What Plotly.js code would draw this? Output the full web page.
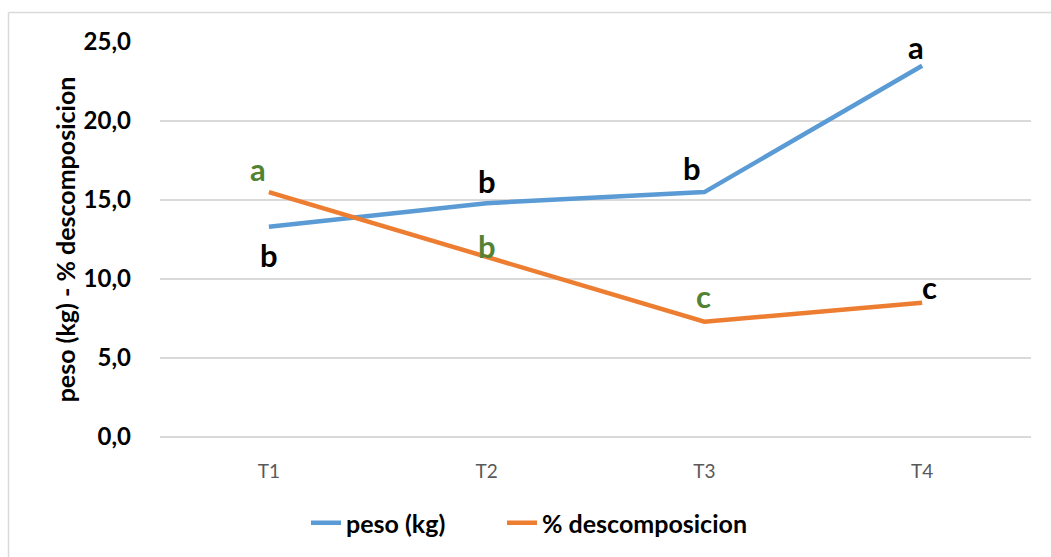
<!DOCTYPE html>
<html><head><meta charset="utf-8">
<script src="https://cdn.plot.ly/plotly-3.0.1.min.js"></script>
<style>html,body{margin:0;padding:0;background:#fff}#chart{width:1051px;height:557px}</style>
</head><body><div id="chart"></div>
<script>
const categories = ["T1", "T2", "T3", "T4"];
const pesoKg = [13.3, 14.8, 15.5, 23.5];
const descomposicion = [15.5, 11.4, 7.3, 8.5];
const pesoLetters = ["b", "b", "b", "a"];
const descLetters = ["a", "b", "c", "c"];
const yTickVals = [0, 5, 10, 15, 20, 25];

const green = "#548235";
const FONT = "Lato, 'Open Sans', sans-serif";

// label styling/offsets (style, not data)
const pesoStyle = [
  {color: "#000", dx: 0, dy: -28},
  {color: "#000", dx: 0, dy: 22},
  {color: "#000", dx: -12, dy: 24},
  {color: "#000", dx: -6, dy: 19}
];
const descStyle = [
  {color: green, dx: -11, dy: 23},
  {color: green, dx: 0, dy: 11},
  {color: green, dx: -1, dy: 26},
  {color: "#000", dx: 7, dy: 16}
];

const annotations = [];
function addLabels(vals, letters, styles) {
  vals.forEach((v, i) => {
    annotations.push({
      x: categories[i], y: v, xref: "x", yref: "y",
      text: "<b>" + letters[i] + "</b>", showarrow: false,
      xshift: styles[i].dx, yshift: styles[i].dy,
      font: {family: FONT, size: 31, color: styles[i].color}
    });
  });
}
addLabels(pesoKg, pesoLetters, pesoStyle);
addLabels(descomposicion, descLetters, descStyle);

const traces = [
  {x: categories, y: pesoKg, type: "scatter", mode: "lines", name: "peso (kg)",
   line: {color: "#5b9bd5", width: 4.5}, legend: "legend"},
  {x: categories, y: descomposicion, type: "scatter", mode: "lines", name: "% descomposicion",
   line: {color: "#ed7d31", width: 4.5}, legend: "legend2"}
];

const L = 160, R = 1031, T = 42, B = 438;
const px = v => (v - L) / (R - L);
const py = v => (B - v) / (B - T);

const legendFont = {family: FONT, size: 25, color: "#000", weight: "bold"};

const layout = {
  width: 1051, height: 557,
  margin: {l: L, r: 1051 - R, t: T, b: 557 - B},
  paper_bgcolor: "#fff", plot_bgcolor: "#fff",
  separators: ",.",
  showlegend: true,
  legend: {orientation: "h", x: px(306), xanchor: "left", y: py(523), yanchor: "middle",
    font: legendFont, bgcolor: "rgba(0,0,0,0)"},
  legend2: {orientation: "h", x: px(502), xanchor: "left", y: py(523), yanchor: "middle",
    font: legendFont, bgcolor: "rgba(0,0,0,0)"},
  xaxis: {type: "category", range: [-0.5, 3.5], showgrid: false, showline: false, zeroline: false, ticks: "",
    ticklabelstandoff: 21, tickfont: {family: FONT, size: 19, color: "#595959"}, fixedrange: true},
  yaxis: {range: [0, 25], tickvals: yTickVals, tickformat: ".1f", showgrid: true, gridcolor: "#d9d9d9",
    gridwidth: 1.5, zeroline: true, zerolinecolor: "#d9d9d9", zerolinewidth: 1.5, showline: false, ticks: "",
    ticklabelstandoff: 28, tickfont: {family: FONT, size: 24, color: "#000", weight: "bold"},
    title: {text: "<b>peso (kg) - % descomposicion</b>", standoff: 0, font: {family: FONT, size: 25, color: "#000"}}},
  annotations: annotations,
  shapes: [
    {type: "line", xref: "paper", yref: "paper", x0: px(8.5), x1: px(1060), y0: py(12.5), y1: py(12.5),
     line: {color: "#d9d9d9", width: 1.5}},
    {type: "line", xref: "paper", yref: "paper", x0: px(8.5), x1: px(8.5), y0: py(12.5), y1: py(570),
     line: {color: "#d9d9d9", width: 1.5}}
  ]
};

Plotly.newPlot("chart", traces, layout, {displayModeBar: false, staticPlot: true});
</script></body></html>
